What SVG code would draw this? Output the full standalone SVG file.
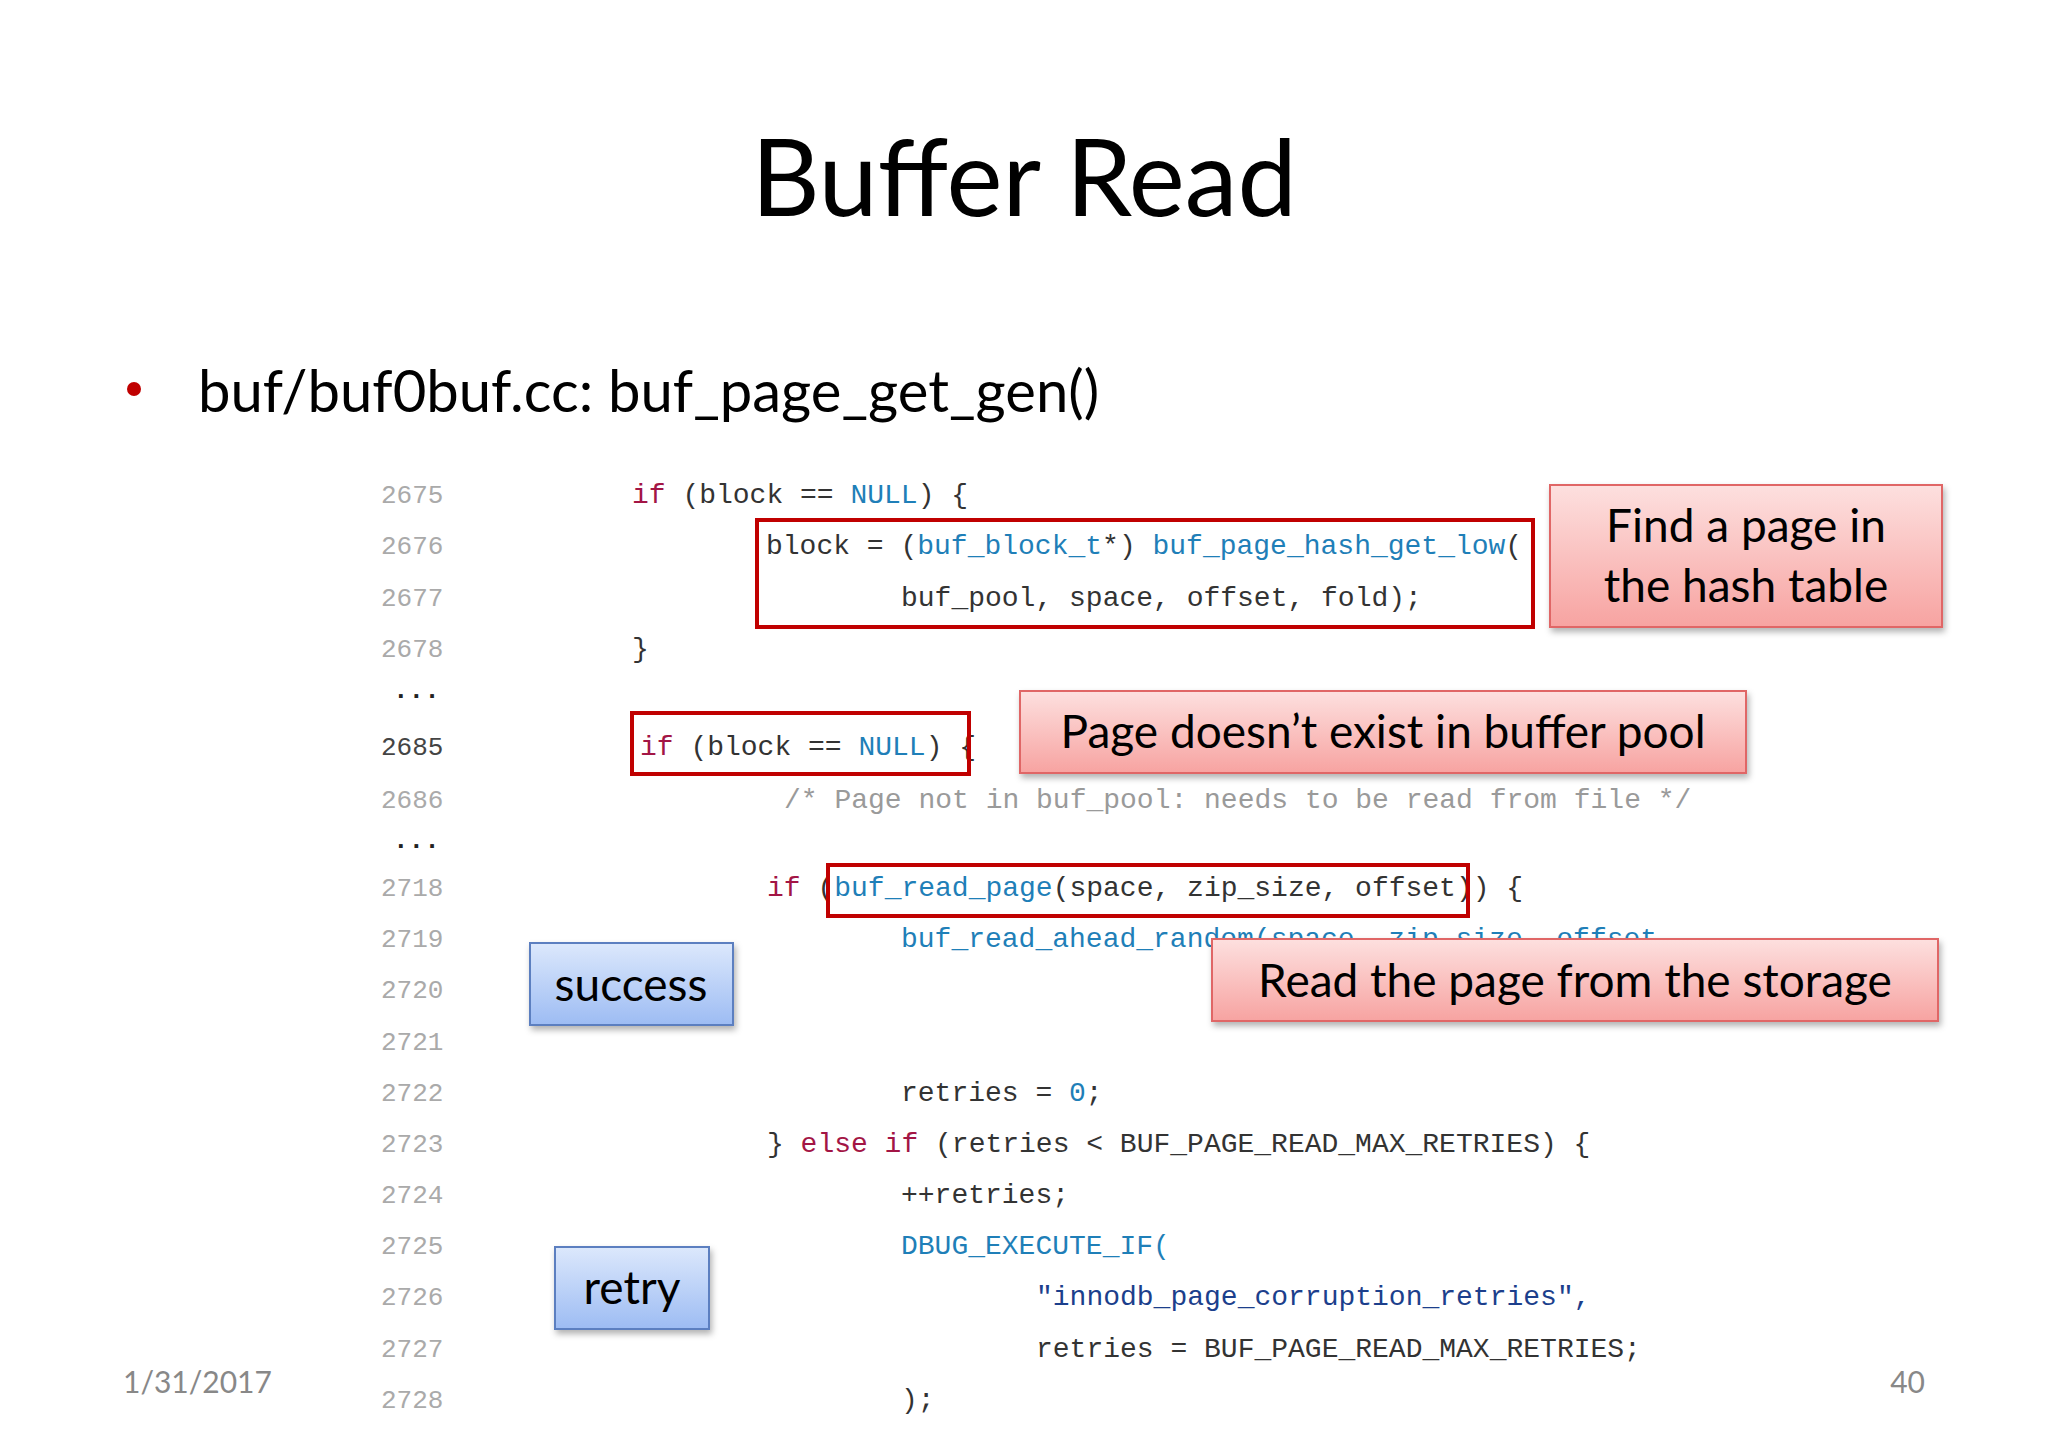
<svg xmlns="http://www.w3.org/2000/svg" width="2048" height="1448" viewBox="0 0 2048 1448">
<defs>
<linearGradient id="pink" x1="0" y1="0" x2="0" y2="1"><stop offset="0" stop-color="#fde0df"/><stop offset="1" stop-color="#f7a3a1"/></linearGradient>
<linearGradient id="blue" x1="0" y1="0" x2="0" y2="1"><stop offset="0" stop-color="#dce8fc"/><stop offset="1" stop-color="#9dbcf3"/></linearGradient>
<filter id="sh" x="-10%" y="-10%" width="130%" height="140%"><feDropShadow dx="2" dy="4" stdDeviation="3" flood-color="#000" flood-opacity="0.3"/></filter>
</defs>
<style>
.ln{font-family:"Liberation Mono",monospace;font-size:26px;fill:#aaaaaa}
.c{font-family:"Liberation Mono",monospace;font-size:28px;fill:#333333;white-space:pre}
.k{fill:#a31545}.b{fill:#1f7fb8}.cm{fill:#9a9a9a}.s{fill:#1c3f8c}
.red{fill:none;stroke:#c00000;stroke-width:4}
.pk{fill:url(#pink);stroke:#e06666;stroke-width:2;filter:url(#sh)}
.bl{fill:url(#blue);stroke:#5b7fc0;stroke-width:2;filter:url(#sh)}
.lt{font-family:Lato,"Open Sans",sans-serif;font-size:46px;fill:#000;text-anchor:middle}
</style>
<rect width="2048" height="1448" fill="#fff"/>
<text x="1024" y="216" font-family="Lato,'Open Sans',sans-serif" font-size="106" text-anchor="middle">Buffer Read</text>
<circle cx="134" cy="389" r="7" fill="#c00000"/>
<text x="198" y="412" font-family="Lato,'Open Sans',sans-serif" font-size="58">buf/buf0buf.cc: buf_page_get_gen()</text>
<g id="linenums">
<text class="ln" x="381" y="503">2675</text>
<text class="ln" x="381" y="554">2676</text>
<text class="ln" x="381" y="606">2677</text>
<text class="ln" x="381" y="657">2678</text>
<text class="ln" x="393" y="698" fill="#000" style="fill:#222;font-weight:bold">...</text>
<text class="ln" x="381" y="755" style="fill:#444">2685</text>
<text class="ln" x="381" y="808">2686</text>
<text class="ln" x="393" y="848" style="fill:#222;font-weight:bold">...</text>
<text class="ln" x="381" y="896">2718</text>
<text class="ln" x="381" y="947">2719</text>
<text class="ln" x="381" y="998">2720</text>
<text class="ln" x="381" y="1050">2721</text>
<text class="ln" x="381" y="1101">2722</text>
<text class="ln" x="381" y="1152">2723</text>
<text class="ln" x="381" y="1203">2724</text>
<text class="ln" x="381" y="1254">2725</text>
<text class="ln" x="381" y="1305">2726</text>
<text class="ln" x="381" y="1357">2727</text>
<text class="ln" x="381" y="1408">2728</text>
</g>
<g id="code">
<text class="c" x="632" y="503"><tspan class="k">if</tspan> (block == <tspan class="b">NULL</tspan>) {</text>
<text class="c" x="766" y="554">block = (<tspan class="b">buf_block_t</tspan>*) <tspan class="b">buf_page_hash_get_low</tspan>(</text>
<text class="c" x="901" y="606">buf_pool, space, offset, fold);</text>
<text class="c" x="632" y="657">}</text>
<text class="c" x="640" y="755"><tspan class="k">if</tspan> (block == <tspan class="b">NULL</tspan>) {</text>
<text class="c cm" x="784" y="808">/* Page not in buf_pool: needs to be read from file */</text>
<text class="c" x="767" y="896"><tspan class="k">if</tspan> (<tspan class="b">buf_read_page</tspan>(space, zip_size, offset)) {</text>
<text class="c b" x="901" y="947">buf_read_ahead_random(space, zip_size, offset,</text>
<text class="c" x="901" y="1101">retries = <tspan class="b">0</tspan>;</text>
<text class="c" x="767" y="1152">} <tspan class="k">else if</tspan> (retries &lt; BUF_PAGE_READ_MAX_RETRIES) {</text>
<text class="c" x="901" y="1203">++retries;</text>
<text class="c b" x="901" y="1254">DBUG_EXECUTE_IF(</text>
<text class="c s" x="1036" y="1305">"innodb_page_corruption_retries",</text>
<text class="c" x="1036" y="1357">retries = BUF_PAGE_READ_MAX_RETRIES;</text>
<text class="c" x="901" y="1408">);</text>
</g>
<g id="highlights">
<rect class="red" x="757" y="520" width="776" height="107"/>
<rect class="red" x="632" y="713" width="337" height="61"/>
<rect class="red" x="828" y="865" width="640" height="51"/>
</g>
<g id="callout-hash"><rect class="pk" x="1550" y="485" width="392" height="142"/><text class="lt" x="1746" y="542">Find a page in</text><text class="lt" x="1746" y="602">the hash table</text></g>
<g id="callout-notexist"><rect class="pk" x="1020" y="691" width="726" height="82"/><text class="lt" x="1383" y="748">Page doesn’t exist in buffer pool</text></g>
<g id="callout-read"><rect class="pk" x="1212" y="939" width="726" height="82"/><text class="lt" x="1575" y="997">Read the page from the storage</text></g>
<g id="success"><rect class="bl" x="530" y="943" width="203" height="82"/><text class="lt" x="631" y="1001">success</text></g>
<g id="retry"><rect class="bl" x="555" y="1247" width="154" height="82"/><text class="lt" x="632" y="1304">retry</text></g>
<text x="123" y="1393" font-family="Lato,'Open Sans',sans-serif" font-size="30" fill="#888">1/31/2017</text>
<text x="1925" y="1393" font-family="Lato,'Open Sans',sans-serif" font-size="30" fill="#888" text-anchor="end">40</text>
</svg>
